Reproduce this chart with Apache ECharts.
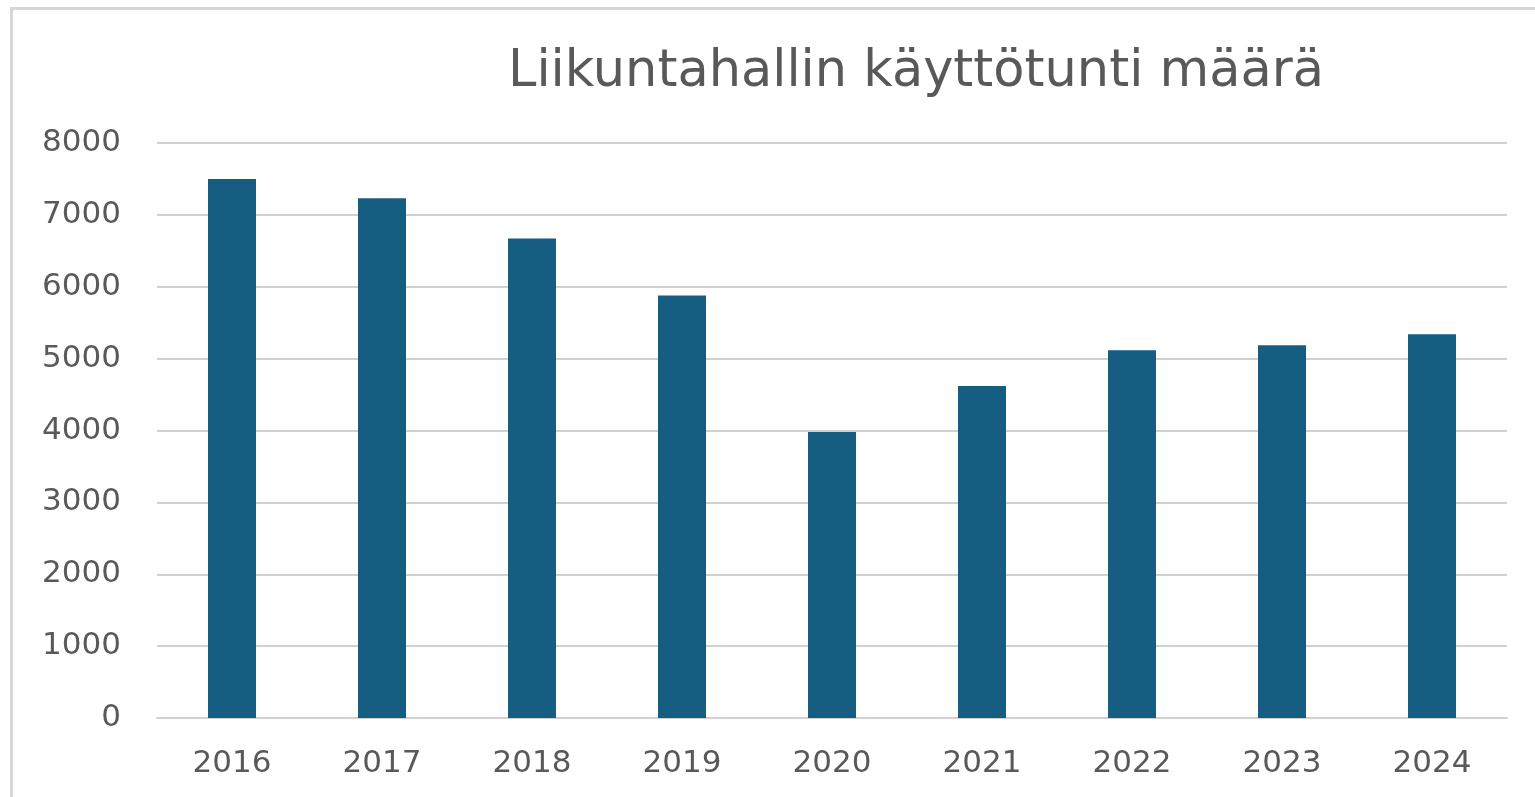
<!DOCTYPE html>
<html>
<head>
<meta charset="utf-8">
<script src="https://cdn.jsdelivr.net/npm/echarts@6/dist/echarts.min.js"></script>
<style>
  html, body { margin: 0; padding: 0; background: #fff; overflow: hidden; }
  .frame {
    position: absolute;
    left: 10px;
    top: 7px;
    width: 1560px;
    height: 820px;
    border: 3px solid #d6d6d6;
  }
  #chart { position: absolute; left: 0; top: 0; width: 1535px; height: 797px; }
</style>
</head>
<body>
<div class="frame"></div>
<div id="chart"></div>
<script>
const years = ['2016', '2017', '2018', '2019', '2020', '2021', '2022', '2023', '2024']
const hours = [7500, 7230, 6670, 5880, 3980, 4620, 5115, 5185, 5340]
const yTicks = [0, 1000, 2000, 3000, 4000, 5000, 6000, 7000, 8000]

let chart = echarts.init(document.getElementById('chart'))
chart.setOption({
  animation: false,
  title: {
    text: 'Liikuntahallin käyttötunti määrä',
    left: 911,
    top: 42,
    textAlign: 'center',
    textStyle: {
      fontFamily: 'DejaVu Sans',
      fontSize: 51,
      fontWeight: 'normal',
      color: '#595959'
    }
  },
  grid: {
    left: 157,
    right: 28,
    top: 143,
    bottom: 79,
    containLabel: false
  },
  xAxis: {
    type: 'category',
    data: years,
    axisLine: { lineStyle: { color: '#d0d0d0', width: 2 } },
    axisTick: { show: false },
    axisLabel: {
      margin: 30,
      fontFamily: 'DejaVu Sans',
      fontSize: 31,
      color: '#595959'
    }
  },
  yAxis: {
    type: 'value',
    min: 0,
    max: yTicks[yTicks.length - 1],
    interval: 1000,
    axisLine: { show: false },
    axisTick: { show: false },
    splitLine: { lineStyle: { color: '#d0d0d0', width: 2 } },
    axisLabel: {
      margin: 36,
      fontFamily: 'DejaVu Sans',
      fontSize: 31,
      color: '#595959',
      formatter: v => String(v)
    }
  },
  series: [{
    type: 'bar',
    data: hours,
    barWidth: 48,
    itemStyle: { color: '#155e82' }
  }]
})
</script>
</body>
</html>
